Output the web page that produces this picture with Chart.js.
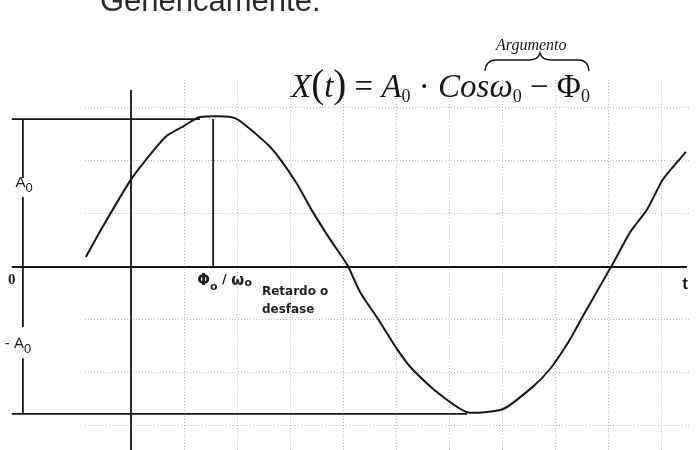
<!DOCTYPE html>
<html>
<head>
<meta charset="utf-8">
<script src="https://cdn.jsdelivr.net/npm/chart.js@4.4.0/dist/chart.umd.min.js"></script>
<style>
  html, body { margin: 0; padding: 0; background: #fff; }
  #wrap { width: 700px; height: 450px; }
</style>
</head>
<body>
<div id="wrap"><canvas id="grafica"></canvas></div>
<script>
// senoide muestreada, en unidades de cuadricula (t horizontal, X vertical)
const curvaT = [-0.85, -0.58, -0.02, 0.36, 0.68, 0.98, 1.30, 1.96, 2.57, 2.81, 3.13, 3.43, 3.75, 4.08,
                4.32, 4.66, 5.02, 5.30, 5.77, 6.34, 7.02, 7.58, 7.91, 8.25, 8.53, 8.85, 9.09, 9.42,
                9.74, 10.04, 10.47];
const curvaX = [0.19, 0.68, 1.62, 2.12, 2.48, 2.65, 2.83, 2.81, 2.32, 2.04, 1.57, 1.04, 0.53, 0.04,
                -0.47, -0.98, -1.55, -1.92, -2.36, -2.74, -2.68, -2.26, -1.92, -1.42, -0.92, -0.36, 0.06, 0.66,
                1.09, 1.66, 2.17];

// niveles de amplitud y retardo
const nivelA0 = 2.79;
const nivelMenosA0 = -2.77;
const retardo = 1.55;

// extremos de los ejes dibujados
const ejeTDesde = -2.25, ejeTHasta = 10.49;
const ejeXDesde = 3.34, ejeXHasta = -3.5;
const tCota = -2.04;                 // linea de cota vertical de la izquierda
const huecoA0 = [1.68, 1.32];        // hueco para la etiqueta A0
const huecoMenosA0 = [-1.13, -1.72]; // hueco para la etiqueta -A0
const finCimaT = 1.30, finValleT = 6.34;

// lineas de la cuadricula punteada
const rejillaT = [1, 2, 3, 4, 5, 6, 7, 8, 9, 10];
const rejillaX = [-3, -2, -1, 1, 2, 3];

const TINTA = '#161616';

function segmento(puntos, ancho) {
  return {
    data: puntos.map(p => ({ x: p[0], y: p[1] })),
    showLine: true,
    borderColor: TINTA,
    borderWidth: ancho || 1.8,
    pointRadius: 0,
    tension: 0,
    clip: false
  };
}

const datasets = [
  segmento([[ejeTDesde, 0], [ejeTHasta, 0]]),
  segmento([[0, ejeXDesde], [0, ejeXHasta]]),
  segmento([[ejeTDesde, nivelA0], [finCimaT, nivelA0]]),
  segmento([[ejeTDesde, nivelMenosA0], [finValleT, nivelMenosA0]]),
  segmento([[retardo, nivelA0], [retardo, 0]]),
  segmento([[tCota, nivelA0], [tCota, huecoA0[0]]]),
  segmento([[tCota, huecoA0[1]], [tCota, huecoMenosA0[0]]]),
  segmento([[tCota, huecoMenosA0[1]], [tCota, nivelMenosA0]]),
  {
    data: curvaT.map((t, i) => ({ x: t, y: curvaX[i] })),
    showLine: true,
    borderColor: TINTA,
    borderWidth: 2,
    pointRadius: 0,
    tension: 0.2,
    clip: false
  }
];

// texto con subindice
function conSub(ctx, base, sub, x, y, fBase, fSub, baja) {
  ctx.font = fBase;
  ctx.fillText(base, x, y);
  const w = ctx.measureText(base).width;
  ctx.font = fSub;
  ctx.fillText(sub, x + w, y + baja);
  return w + ctx.measureText(sub).width;
}

const textos = {
  id: 'textos',
  afterDraw(chart) {
    const ctx = chart.ctx;
    const sx = chart.scales.x, sy = chart.scales.y;
    const px = t => sx.getPixelForValue(t);
    const py = v => sy.getPixelForValue(v);
    ctx.save();
    ctx.fillStyle = '#2a2a2a';
    ctx.textBaseline = 'alphabetic';
    ctx.textAlign = 'left';

    ctx.font = '31px "Liberation Sans", Arial, sans-serif';
    ctx.fillText('Genéricamente:', 100, 11);

    // formula
    ctx.fillStyle = TINTA;
    const sI = 'italic 33px "Liberation Serif", "Times New Roman", serif';
    const sR = '33px "Liberation Serif", "Times New Roman", serif';
    const sP = '39px "Liberation Serif", "Times New Roman", serif';
    const sS = '18px "Liberation Serif", "Times New Roman", serif';
    let x = 291, y = 97;
    const pone = (txt, f) => { ctx.font = f; ctx.fillText(txt, x, y); x += ctx.measureText(txt).width; };
    pone('X', sI); pone('(', sP); pone('t', sI); pone(')', sP);
    pone(' = ', sR);
    x += conSub(ctx, 'A', '0', x, y, sI, sS, 5);
    pone(' · ', sR);
    pone('Cos', sI);
    x += conSub(ctx, 'ω', '0', x, y, sI, sS, 5);
    pone(' − ', sR);
    x += conSub(ctx, 'Φ', '0', x, y, sR, sS, 5);

    ctx.font = 'italic 16px "Liberation Serif", "Times New Roman", serif';
    ctx.fillText('Argumento', 496, 50);

    // llave sobre el argumento
    ctx.strokeStyle = TINTA;
    ctx.lineWidth = 1.4;
    ctx.beginPath();
    ctx.moveTo(485, 71);
    ctx.quadraticCurveTo(486, 60, 496, 60);
    ctx.lineTo(529, 60);
    ctx.quadraticCurveTo(538, 60, 540, 53);
    ctx.quadraticCurveTo(542, 60, 551, 60);
    ctx.lineTo(579, 60);
    ctx.quadraticCurveTo(588, 60, 589, 71);
    ctx.stroke();

    // etiquetas de los ejes
    ctx.fillStyle = '#1e1e1e';
    const fL = '15px "Liberation Sans", Arial, sans-serif';
    const fLs = '13px "Liberation Sans", Arial, sans-serif';
    ctx.font = 'bold 15px "Liberation Serif", serif';
    ctx.fillText('0', px(-2.32), py(-0.32));
    conSub(ctx, 'A', '0', px(-2.18), py(1.5), fL, fLs, 5);
    conSub(ctx, '- A', '0', px(-2.38), py(-1.52), fL, fLs, 5);
    ctx.font = 'bold 17px "Liberation Sans", Arial, sans-serif';
    ctx.fillText('t', px(10.4), py(-0.42));

    const fB = 'bold 15px "DejaVu Sans", sans-serif';
    const fBs = 'bold 11px "DejaVu Sans", sans-serif';
    let xr = px(1.25), yr = py(-0.34);
    xr += conSub(ctx, 'Φ', 'o', xr, yr, fB, fBs, 5);
    ctx.font = 'bold 13px "DejaVu Sans", sans-serif';
    ctx.fillText(' / ', xr, yr - 2); xr += ctx.measureText(' / ').width;
    conSub(ctx, 'ω', 'o', xr, yr, fB, fBs, 1);
    ctx.font = 'bold 12px "DejaVu Sans", sans-serif';
    ctx.fillText('Retardo o', px(2.47), py(-0.52));
    ctx.fillText('desfase', px(2.47), py(-0.86));
    ctx.restore();
  }
};

function rejilla(valores) {
  return axis => { axis.ticks = valores.map(v => ({ value: v })); };
}

const ejeComun = {
  type: 'linear',
  ticks: { display: false },
  grid: { color: 'rgba(120,120,120,0.5)', lineWidth: 1, drawTicks: false },
  border: { display: false, dash: [1, 2] }
};

new Chart(document.getElementById('grafica'), {
  type: 'scatter',
  data: { datasets: datasets },
  options: {
    responsive: true,
    maintainAspectRatio: false,
    animation: false,
    layout: { padding: { left: 85, right: 10, top: 80, bottom: 0 } },
    plugins: { legend: { display: false }, tooltip: { enabled: false } },
    scales: {
      x: Object.assign({}, ejeComun, { min: -0.868, max: 10.547, afterBuildTicks: rejilla(rejillaT) }),
      y: Object.assign({}, ejeComun, { min: -3.453, max: 3.528, afterBuildTicks: rejilla(rejillaX) })
    }
  },
  plugins: [textos]
});
</script>
</body>
</html>
